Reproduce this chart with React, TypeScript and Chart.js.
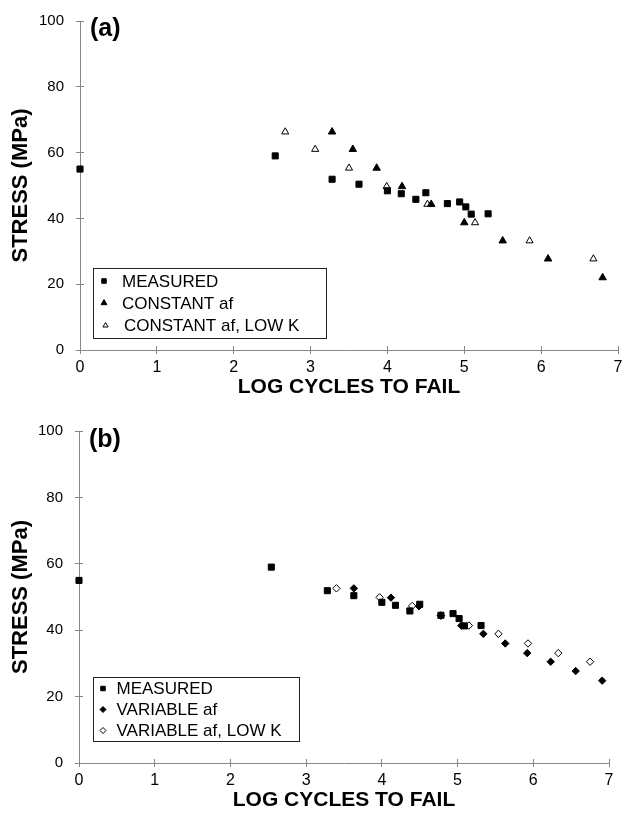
import React, { useEffect, useRef } from 'react';
import { Chart, registerables } from 'chart.js';

Chart.register(...registerables);

const FONT = '"Liberation Sans", Arial, Helvetica, sans-serif';
const AXIS = '#868686';

const xTicks = [0, 1, 2, 3, 4, 5, 6, 7];
const yTicks = [0, 20, 40, 60, 80, 100];

const measuredX = [0, 2.54, 3.28, 3.63, 4.0, 4.18, 4.37, 4.5, 4.78, 4.94, 5.02, 5.09, 5.31];
const measuredY = [55.0, 59.0, 51.9, 50.4, 48.4, 47.5, 45.8, 47.8, 44.5, 45.0, 43.5, 41.3, 41.4];

const constAfX = [3.28, 3.55, 3.86, 4.19, 4.57, 5.0, 5.5, 6.09, 6.8];
const constAfY = [66.3, 61.0, 55.3, 49.7, 44.3, 38.7, 33.2, 27.7, 22.0];
const constLowKX = [2.67, 3.06, 3.5, 3.99, 4.52, 5.14, 5.85, 6.68];
const constLowKY = [66.3, 61.0, 55.3, 49.7, 44.3, 38.7, 33.2, 27.7];

const varAfX = [3.63, 4.12, 4.49, 4.78, 5.05, 5.34, 5.63, 5.92, 6.23, 6.56, 6.91];
const varAfY = [52.6, 49.8, 47.2, 44.4, 41.4, 38.9, 36.0, 33.1, 30.5, 27.7, 24.8];
const varLowKX = [3.4, 3.97, 4.4, 4.78, 5.15, 5.54, 5.93, 6.33, 6.75];
const varLowKY = [52.6, 49.9, 47.3, 44.4, 41.4, 38.9, 36.0, 33.1, 30.5];

const labelsA = ['MEASURED', 'CONSTANT af', 'CONSTANT af, LOW K'];
const labelsB = ['MEASURED', 'VARIABLE af', 'VARIABLE af, LOW K'];

const pts = (xs: number[], ys: number[]) => xs.map((x, i) => ({ x, y: ys[i] }));

type Marker = { style: string; fill: string; r: number };

const mSquare: Marker = { style: 'rect', fill: '#000', r: 4.3 };
const mTri: Marker = { style: 'triangle', fill: '#000', r: 4.3 };
const mTriOpen: Marker = { style: 'triangle', fill: '#fff', r: 4.1 };
const mDia: Marker = { style: 'rectRot', fill: '#000', r: 3.7 };
const mDiaOpen: Marker = { style: 'rectRot', fill: '#fff', r: 3.7 };

function ds(label: string, data: any[], m: Marker) {
  return {
    label,
    data,
    showLine: false,
    pointStyle: m.style,
    pointRadius: m.r,
    pointBackgroundColor: m.fill,
    pointBorderColor: '#000',
    pointBorderWidth: 1,
    backgroundColor: m.fill,
    borderColor: '#000',
    clip: false,
  };
}

function align(v: number) {
  return Math.round(v - 0.5) + 0.5;
}

function drawMarker(ctx: CanvasRenderingContext2D, style: string, fill: string, x: number, y: number, r: number) {
  ctx.beginPath();
  if (style === 'rect') {
    const s = r * Math.SQRT1_2;
    ctx.rect(x - s, y - s, 2 * s, 2 * s);
  } else if (style === 'triangle') {
    for (let i = 0; i < 3; i++) {
      const a = (i * 2 * Math.PI) / 3;
      const px = x + Math.sin(a) * r;
      const py = y - Math.cos(a) * r;
      if (i === 0) ctx.moveTo(px, py);
      else ctx.lineTo(px, py);
    }
    ctx.closePath();
  } else {
    ctx.moveTo(x - r, y);
    ctx.lineTo(x, y - r);
    ctx.lineTo(x + r, y);
    ctx.lineTo(x, y + r);
    ctx.closePath();
  }
  ctx.fillStyle = fill;
  ctx.fill();
  ctx.strokeStyle = '#000';
  ctx.lineWidth = 1;
  ctx.stroke();
}

const decor = {
  id: 'decor',
  afterDraw(chart: any, _args: any, opts: any) {
    const { ctx, chartArea } = chart;
    const xs = chart.scales.x;
    const ys = chart.scales.y;
    ctx.save();
    // inner halves of the crossing tick marks
    ctx.strokeStyle = AXIS;
    ctx.lineWidth = 1;
    xs.ticks.forEach((t: any) => {
      const px = align(xs.getPixelForValue(t.value));
      ctx.beginPath();
      ctx.moveTo(px, chartArea.bottom);
      ctx.lineTo(px, chartArea.bottom - 4);
      ctx.stroke();
    });
    ys.ticks.forEach((t: any) => {
      const py = align(ys.getPixelForValue(t.value));
      ctx.beginPath();
      ctx.moveTo(chartArea.left, py);
      ctx.lineTo(chartArea.left + 4, py);
      ctx.stroke();
    });
    // panel label
    ctx.fillStyle = '#000';
    ctx.font = `bold 25px ${FONT}`;
    ctx.textBaseline = 'top';
    ctx.textAlign = 'left';
    ctx.fillText(opts.panel, opts.panelX, opts.panelY);
    // legend box
    const b = opts.box;
    ctx.fillStyle = '#fff';
    ctx.fillRect(b.x, b.y, b.w, b.h);
    ctx.strokeStyle = '#222';
    ctx.strokeRect(b.x + 0.5, b.y + 0.5, b.w, b.h);
    const metas = chart.data.datasets;
    opts.rows.forEach((row: any, i: number) => {
      const d = metas[i];
      drawMarker(ctx, d.pointStyle, d.pointBackgroundColor, row.mx, row.y, row.mr);
      ctx.fillStyle = '#000';
      ctx.font = `17px ${FONT}`;
      ctx.textBaseline = 'middle';
      ctx.fillText(d.label, row.tx, row.y + 1);
    });
    ctx.restore();
  },
};

function makeChart(canvas: HTMLCanvasElement, cfg: any) {
  return new Chart(canvas, {
    type: 'scatter',
    data: { datasets: cfg.datasets },
    plugins: [decor],
    options: {
      animation: false,
      responsive: false,
      devicePixelRatio: 1,
      events: [],
      layout: { padding: cfg.padding },
      plugins: {
        legend: { display: false },
        tooltip: { enabled: false },
        decor: cfg.decor,
      } as any,
      scales: {
        x: {
          type: 'linear',
          min: 0,
          max: 7,
          afterBuildTicks: (s: any) => {
            s.ticks = xTicks.map((v) => ({ value: v }));
          },
          afterFit: (s: any) => {
            s.height = cfg.xHeight;
          },
          ticks: { color: '#000', font: { family: FONT, size: 16 }, padding: 4 },
          grid: { drawOnChartArea: false, drawTicks: true, tickLength: 4, color: AXIS },
          border: { color: AXIS, width: 1 },
          title: {
            display: true,
            text: 'LOG CYCLES TO FAIL',
            color: '#000',
            font: { family: FONT, size: 21, weight: 'bold' },
            padding: { top: 0, bottom: cfg.xTitlePad },
          },
        },
        y: {
          type: 'linear',
          min: 0,
          max: 100,
          afterBuildTicks: (s: any) => {
            s.ticks = yTicks.map((v) => ({ value: v }));
          },
          afterFit: (s: any) => {
            s.width = cfg.yWidth;
          },
          ticks: { color: '#000', font: { family: FONT, size: 15 }, padding: 12 },
          grid: { drawOnChartArea: false, drawTicks: true, tickLength: 4, color: AXIS },
          border: { color: AXIS, width: 1 },
          title: {
            display: true,
            text: 'STRESS (MPa)',
            color: '#000',
            font: { family: FONT, size: 22, weight: 'bold' },
            padding: { top: 8, bottom: 0 },
          },
        },
      },
    } as any,
  });
}

export default function App() {
  const refA = useRef<HTMLCanvasElement>(null);
  const refB = useRef<HTMLCanvasElement>(null);

  useEffect(() => {
    const a = makeChart(refA.current!, {
      datasets: [
        ds(labelsA[0], pts(measuredX, measuredY), mSquare),
        ds(labelsA[1], pts(constAfX, constAfY), mTri),
        ds(labelsA[2], pts(constLowKX, constLowKY), mTriOpen),
      ],
      padding: { left: 0, right: 11, top: 18, bottom: 0 },
      yWidth: 80,
      xHeight: 50,
      xTitlePad: 0,
      decor: {
        panel: '(a)',
        panelX: 90,
        panelY: 17,
        box: { x: 93, y: 268, w: 233, h: 70 },
        rows: [
          { mx: 104, y: 281, mr: 3.2, tx: 122 },
          { mx: 104, y: 303, mr: 3.4, tx: 122 },
          { mx: 105.5, y: 325.5, mr: 3.0, tx: 124 },
        ],
      },
    });
    const b = makeChart(refB.current!, {
      datasets: [
        ds(labelsB[0], pts(measuredX, measuredY), mSquare),
        ds(labelsB[1], pts(varAfX, varAfY), mDia),
        ds(labelsB[2], pts(varLowKX, varLowKY), mDiaOpen),
      ],
      padding: { left: 0, right: 20, top: 19, bottom: 0 },
      yWidth: 79,
      xHeight: 52,
      xTitlePad: 2,
      decor: {
        panel: '(b)',
        panelX: 89,
        panelY: 18,
        box: { x: 93, y: 267, w: 206, h: 64 },
        rows: [
          { mx: 103, y: 278.5, mr: 3.2, tx: 116.5 },
          { mx: 103, y: 299.5, mr: 3.0, tx: 116.5 },
          { mx: 103, y: 320.5, mr: 3.0, tx: 116.5 },
        ],
      },
    });
    return () => {
      a.destroy();
      b.destroy();
    };
  }, []);

  return (
    <div style={{ position: 'absolute', left: 0, top: 0, width: 629, height: 815, background: '#fff' }}>
      <canvas ref={refA} width={629} height={400} style={{ position: 'absolute', left: 0, top: 0 }} />
      <canvas ref={refB} width={629} height={405} style={{ position: 'absolute', left: 0, top: 410 }} />
    </div>
  );
}
